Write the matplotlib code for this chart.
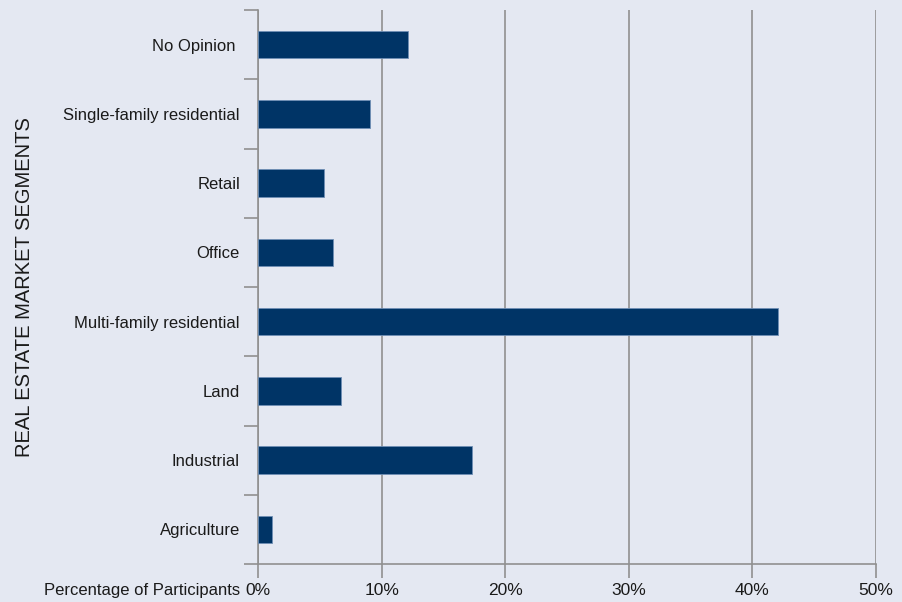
import matplotlib.pyplot as plt
from matplotlib.ticker import FuncFormatter, FixedLocator
from matplotlib import font_manager

names = [f.name for f in font_manager.fontManager.ttflist]
fam = 'Liberation Sans Narrow' if 'Liberation Sans Narrow' in names else 'Liberation Sans'
plt.rcParams['font.family'] = [fam, 'DejaVu Sans']

categories = ['Agriculture', 'Industrial', 'Land', 'Multi-family residential',
              'Office', 'Retail', 'Single-family residential', 'No Opinion ']
values = [1.1, 17.3, 6.7, 42.1, 6.1, 5.3, 9.1, 12.1]
xticks = [0, 10, 20, 30, 40, 50]

bg = '#e4e8f2'
bar_color = '#003466'
grid_color = '#909090'
text_color = '#1a1a1a'

fig = plt.figure(figsize=(9.02, 6.02), dpi=100, facecolor=bg)
ax = fig.add_axes([258 / 902, 1 - 564 / 602, 618 / 902, 554 / 602], facecolor=bg)

ypos = list(range(len(categories)))
ax.barh(ypos, values, height=0.4, color=bar_color, edgecolor='#6f8fb5',
        linewidth=0.6, zorder=3)

ax.set_xlim(0, 50)
ax.set_ylim(-0.5, len(categories) - 0.5)
ax.set_xticks(xticks)
ax.xaxis.set_major_formatter(FuncFormatter(lambda v, p: f'{int(v)}%'))
ax.xaxis.grid(True, color=grid_color, linewidth=1.2, zorder=1)

ax.set_yticks(ypos)
ax.set_yticklabels(categories)
ax.yaxis.set_minor_locator(FixedLocator([i - 0.5 for i in range(len(categories) + 1)]))
ax.tick_params(axis='y', which='major', length=0, pad=13, labelsize=12, labelcolor=text_color)
ax.tick_params(axis='y', which='minor', length=10, width=1.2, color=grid_color)
ax.tick_params(axis='x', which='major', length=10, width=1.2, color=grid_color,
               pad=4, labelsize=12.5, labelcolor=text_color)

for side in ['top', 'right']:
    ax.spines[side].set_visible(False)
for side in ['left', 'bottom']:
    ax.spines[side].set_color(grid_color)
    ax.spines[side].set_linewidth(1.2)

ax.set_ylabel('REAL ESTATE MARKET SEGMENTS', fontsize=14.5, color=text_color)
ax.yaxis.set_label_coords(-0.363, 0.5)

fig.text(240 / 902, 1 - 590 / 602, 'Percentage of Participants', ha='right', va='center',
         fontsize=12, color=text_color)

fig.savefig('out.png', dpi=100, facecolor=bg)
